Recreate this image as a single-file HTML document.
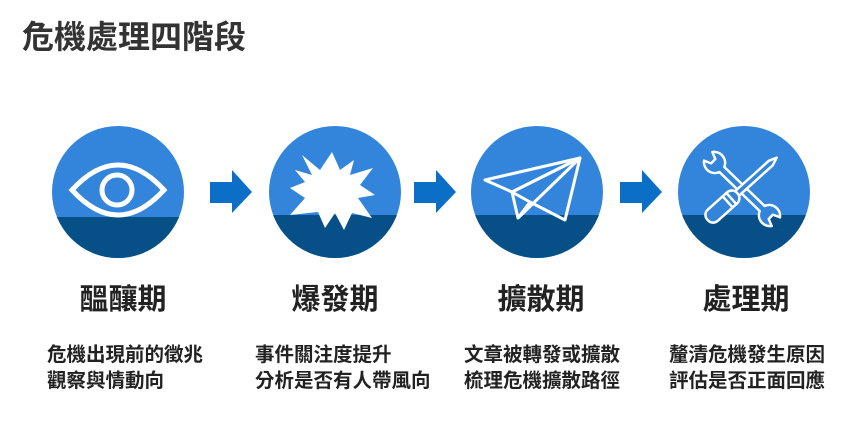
<!DOCTYPE html>
<html><head><meta charset="utf-8"><style>
body{margin:0;width:866px;height:447px;background:#fff;position:relative;overflow:hidden;font-family:"Liberation Sans","Noto Sans CJK TC",sans-serif;}
.t{position:absolute;font-weight:bold;color:#222;white-space:nowrap}
</style></head><body>
<div class="t" style="left:22px;top:18px;font-size:32px;line-height:38px;color:#333">危機處理四階段</div>
<svg width="866" height="447" style="position:absolute;left:0;top:0">
<defs>
<clipPath id="c1"><circle cx="118" cy="192" r="66"/></clipPath>
<clipPath id="c2"><circle cx="335" cy="192" r="66"/></clipPath>
<clipPath id="c3"><circle cx="537" cy="192" r="66"/></clipPath>
<clipPath id="c4"><circle cx="744" cy="192" r="66"/></clipPath>
</defs>
<g clip-path="url(#c1)"><rect x="40" y="120" width="160" height="150" fill="#3285db"/><rect x="40" y="217" width="160" height="60" fill="#064f87"/></g>
<g clip-path="url(#c2)"><rect x="260" y="120" width="160" height="150" fill="#3285db"/><rect x="260" y="215" width="160" height="60" fill="#064f87"/></g>
<g clip-path="url(#c3)"><rect x="460" y="120" width="160" height="150" fill="#3285db"/><rect x="460" y="215" width="160" height="60" fill="#064f87"/></g>
<g clip-path="url(#c4)"><rect x="670" y="120" width="160" height="150" fill="#3285db"/><rect x="670" y="215" width="160" height="60" fill="#064f87"/></g>
<path d="M72 190 Q118 140 164 190 Q118 240 72 190Z" fill="none" stroke="#fff" stroke-width="5"/>
<circle cx="117" cy="190" r="15" fill="none" stroke="#fff" stroke-width="5"/>
<polygon fill="#fff" points="302,155 320,170 332,152 340,170 354,160 350,175 373,168 360,185 375,195 358,198 372,218 352,213 344,230 335,213 325,228 318,212 290,215 305,198 290,188 305,182 295,170 312,175" />
<g fill="none" stroke="#fff" stroke-width="3" stroke-linejoin="round">
<polygon points="485,180 580,158 512,192"/>
<polygon points="512,192 580,158 565,220 530,202"/>
<polyline points="512,192 518,218 530,202"/>
<line x1="518" y1="218" x2="580" y2="158"/>
</g>
<g stroke="#fff" stroke-width="2.5" stroke-linejoin="round" fill="none">
<g transform="translate(742,189) rotate(44)">
<path d="M-28,-3.5 L28,-3.5 A11 11 0 0 1 47,-6 L40,-3 L40,3 L47,6 A11 11 0 0 1 28,3.5 L-28,3.5 A11 11 0 0 1 -47,6 L-40,3 L-40,-3 L-47,-6 A11 11 0 0 1 -28,-3.5 Z" fill="#3285db"/>
</g>
<g transform="translate(742.5,188.5) rotate(-42)" fill="#3285db">
<path d="M-8,-3 L38,-3 L46,0 L38,3 L-8,3 Z"/>
<rect x="-47" y="-7.5" width="40" height="15" rx="7"/>
<line x1="-20" y1="-7.5" x2="-20" y2="7.5"/><line x1="-15" y1="-7.5" x2="-15" y2="7.5"/>
</g>
</g>
<g fill="#0b6fc8">
<polygon points="210,182 232,182 232,170 252,192 232,213 232,203 210,203"/>
<polygon points="414,182 436,182 436,170 456,192 436,213 436,203 414,203"/>
<polygon points="620,182 642,182 642,170 662,192 642,213 642,203 620,203"/>
</g>
</svg>
<div class="t" style="left:63px;top:282px;font-size:29px;line-height:36px;width:120px;text-align:center">醞釀期</div>
<div class="t" style="left:275px;top:282px;font-size:29px;line-height:36px;width:120px;text-align:center">爆發期</div>
<div class="t" style="left:481px;top:282px;font-size:29px;line-height:36px;width:120px;text-align:center">擴散期</div>
<div class="t" style="left:686px;top:282px;font-size:29px;line-height:36px;width:120px;text-align:center">處理期</div>
<div class="t" style="left:47px;top:342px;font-size:19.5px;line-height:26px">危機出現前的徵兆<br>觀察與情動向</div>
<div class="t" style="left:255px;top:342px;font-size:19.5px;line-height:26px">事件關注度提升<br>分析是否有人帶風向</div>
<div class="t" style="left:464px;top:342px;font-size:19.5px;line-height:26px">文章被轉發或擴散<br>梳理危機擴散路徑</div>
<div class="t" style="left:669px;top:342px;font-size:19.5px;line-height:26px">釐清危機發生原因<br>評估是否正面回應</div>
</body></html>
